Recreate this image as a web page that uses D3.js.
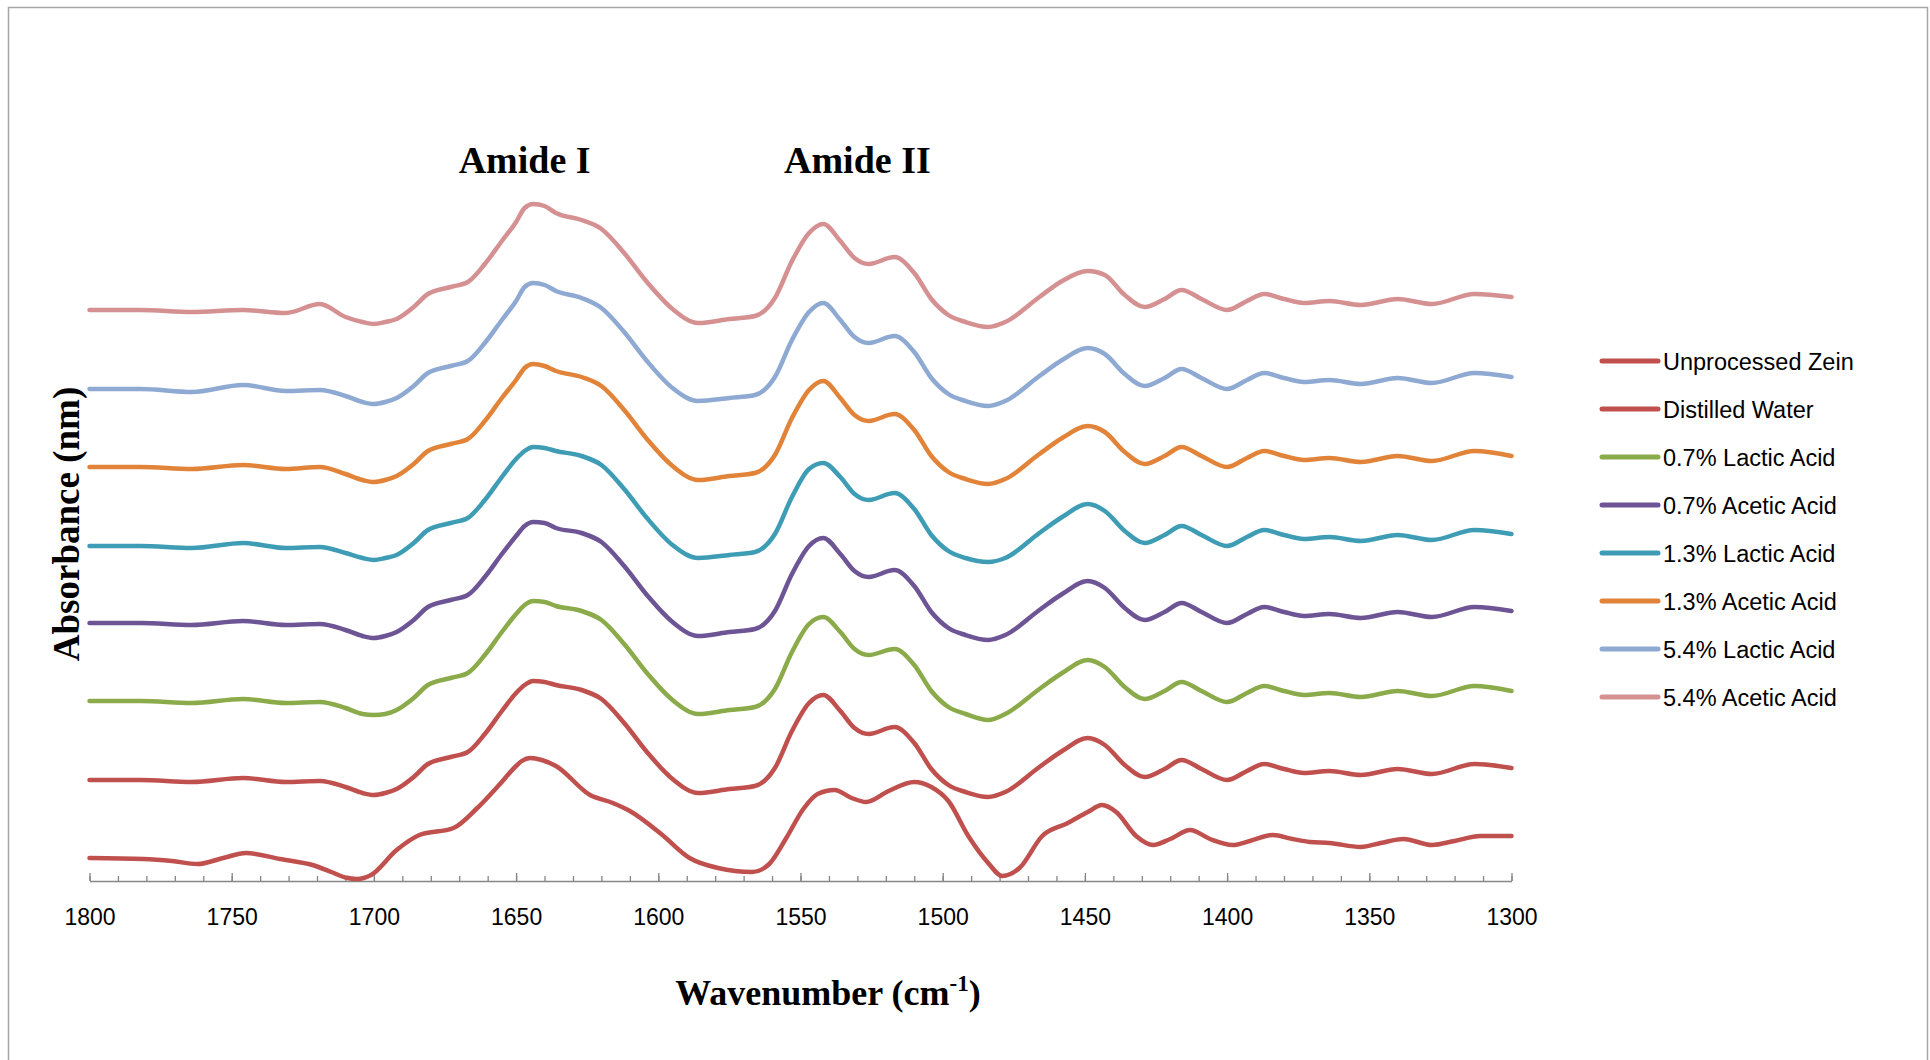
<!DOCTYPE html>
<html>
<head>
<meta charset="utf-8">
<script src="https://cdn.jsdelivr.net/npm/d3@7"></script>
<style>
  body { margin: 0; background: #fff; }
</style>
</head>
<body>
<div id="spectra"></div>
<script>
// Wavenumbers (cm-1) at which the spectra were read
const wnZein = [1800, 1781, 1771, 1762, 1753, 1745, 1733, 1721, 1715, 1710, 1706, 1701, 1692, 1684, 1672, 1664,
  1656, 1650, 1648, 1645, 1641, 1636, 1624, 1616, 1610, 1599, 1589, 1579, 1567, 1561, 1555, 1549, 1544, 1538, 1532,
  1527, 1519, 1510, 1504, 1498, 1491, 1484, 1479, 1473, 1465, 1456, 1449, 1444, 1439, 1432, 1426, 1420,
  1413, 1406, 1398, 1392, 1384, 1377, 1371, 1364, 1353, 1346, 1338, 1328, 1320, 1311, 1300];

const wnTreated = [1800, 1782, 1764, 1746, 1731, 1719, 1710, 1704, 1700, 1696, 1692, 1686, 1681, 1673, 1667,
  1661, 1655, 1650, 1647, 1644, 1640, 1636, 1627, 1620, 1612, 1604, 1595, 1586, 1575, 1566, 1559, 1553,
  1547, 1542, 1536, 1531, 1526, 1517, 1510, 1504, 1498, 1492, 1484, 1478, 1466, 1458, 1449, 1443, 1436,
  1429, 1422, 1416, 1409, 1400, 1393, 1387, 1380, 1373, 1364, 1353, 1340, 1328, 1313, 1300];

// Absorbance (a.u., spectra stacked)
const unprocessedZein = [0.21, 0.20, 0.18, 0.15, 0.21, 0.26, 0.20, 0.135, 0.07, 0.015, 0.00, 0.04, 0.29, 0.44, 0.51, 0.70,
  0.94, 1.13, 1.18, 1.21, 1.19, 1.13, 0.84, 0.76, 0.68, 0.45, 0.21, 0.11, 0.07, 0.15, 0.41, 0.70, 0.85, 0.89, 0.81,
  0.77, 0.88, 0.97, 0.92, 0.78, 0.43, 0.16, 0.03, 0.11, 0.43, 0.56, 0.67, 0.74, 0.67, 0.43, 0.34, 0.40,
  0.49, 0.40, 0.34, 0.38, 0.44, 0.40, 0.37, 0.36, 0.32, 0.36, 0.40, 0.34, 0.38, 0.43, 0.43];

const distilledWater = [0.99, 0.99, 0.97, 1.01, 0.97, 0.98, 0.92, 0.86, 0.84, 0.86, 0.90, 1.02, 1.15, 1.22, 1.27,
  1.45, 1.68, 1.86, 1.94, 1.98, 1.97, 1.94, 1.89, 1.80, 1.56, 1.27, 1.00, 0.86, 0.90, 0.93, 1.11, 1.48,
  1.76, 1.84, 1.68, 1.51, 1.45, 1.52, 1.36, 1.10, 0.94, 0.87, 0.82, 0.87, 1.12, 1.28, 1.41, 1.34, 1.14,
  1.02, 1.10, 1.19, 1.10, 0.99, 1.08, 1.15, 1.10, 1.06, 1.08, 1.04, 1.10, 1.05, 1.15, 1.11];

const lactic07 = [1.78, 1.78, 1.76, 1.80, 1.76, 1.77, 1.71, 1.65, 1.64, 1.65, 1.69, 1.81, 1.94, 2.01, 2.06,
  2.24, 2.47, 2.65, 2.74, 2.78, 2.77, 2.73, 2.68, 2.59, 2.35, 2.06, 1.79, 1.65, 1.69, 1.72, 1.90, 2.27,
  2.55, 2.62, 2.47, 2.30, 2.24, 2.30, 2.14, 1.88, 1.72, 1.65, 1.59, 1.65, 1.90, 2.06, 2.19, 2.12, 1.92,
  1.80, 1.88, 1.97, 1.88, 1.77, 1.86, 1.93, 1.88, 1.84, 1.86, 1.82, 1.88, 1.83, 1.93, 1.88];

const acetic07 = [2.56, 2.56, 2.54, 2.58, 2.54, 2.55, 2.49, 2.43, 2.41, 2.43, 2.47, 2.59, 2.72, 2.79, 2.84,
  3.02, 3.25, 3.43, 3.53, 3.57, 3.56, 3.51, 3.46, 3.37, 3.13, 2.84, 2.57, 2.43, 2.47, 2.50, 2.68, 3.05,
  3.33, 3.41, 3.25, 3.08, 3.02, 3.09, 2.93, 2.67, 2.51, 2.44, 2.39, 2.44, 2.69, 2.85, 2.98, 2.91, 2.71,
  2.59, 2.67, 2.76, 2.67, 2.56, 2.65, 2.72, 2.67, 2.63, 2.65, 2.61, 2.67, 2.62, 2.72, 2.68];

const lactic13 = [3.33, 3.33, 3.31, 3.36, 3.31, 3.32, 3.26, 3.21, 3.19, 3.21, 3.24, 3.36, 3.49, 3.56, 3.61,
  3.79, 4.02, 4.20, 4.28, 4.32, 4.31, 4.28, 4.23, 4.14, 3.90, 3.61, 3.34, 3.21, 3.24, 3.27, 3.45, 3.82,
  4.10, 4.16, 4.02, 3.85, 3.79, 3.86, 3.70, 3.44, 3.28, 3.21, 3.17, 3.21, 3.46, 3.62, 3.75, 3.68, 3.48,
  3.36, 3.44, 3.53, 3.44, 3.33, 3.42, 3.49, 3.44, 3.40, 3.42, 3.38, 3.44, 3.39, 3.49, 3.45];

const acetic13 = [4.12, 4.12, 4.10, 4.14, 4.10, 4.12, 4.05, 3.99, 3.97, 3.99, 4.03, 4.15, 4.28, 4.35, 4.40,
  4.58, 4.81, 4.99, 5.11, 5.15, 5.13, 5.08, 5.02, 4.93, 4.69, 4.40, 4.13, 3.99, 4.03, 4.06, 4.24, 4.61,
  4.89, 4.98, 4.81, 4.64, 4.58, 4.65, 4.49, 4.23, 4.07, 4.00, 3.95, 4.00, 4.25, 4.41, 4.53, 4.47, 4.27,
  4.15, 4.23, 4.32, 4.23, 4.12, 4.21, 4.28, 4.23, 4.19, 4.21, 4.17, 4.23, 4.18, 4.28, 4.23];

const lactic54 = [4.90, 4.90, 4.87, 4.94, 4.88, 4.89, 4.83, 4.77, 4.75, 4.77, 4.81, 4.93, 5.06, 5.13, 5.18,
  5.36, 5.59, 5.78, 5.92, 5.96, 5.94, 5.88, 5.81, 5.71, 5.47, 5.18, 4.91, 4.78, 4.81, 4.84, 5.02, 5.39,
  5.67, 5.76, 5.59, 5.42, 5.36, 5.43, 5.27, 5.01, 4.85, 4.78, 4.73, 4.78, 5.03, 5.19, 5.31, 5.25, 5.05,
  4.93, 5.01, 5.10, 5.01, 4.90, 4.99, 5.06, 5.01, 4.97, 4.99, 4.95, 5.01, 4.96, 5.06, 5.02];

const acetic54 = [5.69, 5.69, 5.67, 5.69, 5.66, 5.75, 5.62, 5.57, 5.55, 5.57, 5.60, 5.72, 5.85, 5.92, 5.97,
  6.15, 6.38, 6.57, 6.71, 6.75, 6.73, 6.66, 6.59, 6.50, 6.26, 5.97, 5.70, 5.56, 5.60, 5.63, 5.81, 6.18,
  6.46, 6.55, 6.38, 6.21, 6.15, 6.22, 6.06, 5.80, 5.64, 5.57, 5.52, 5.57, 5.82, 5.98, 6.08, 6.04, 5.84,
  5.72, 5.80, 5.89, 5.80, 5.69, 5.78, 5.85, 5.80, 5.76, 5.78, 5.74, 5.80, 5.75, 5.85, 5.82];

const seriesNames = ["Unprocessed Zein", "Distilled Water", "0.7% Lactic Acid", "0.7% Acetic Acid",
  "1.3% Lactic Acid", "1.3% Acetic Acid", "5.4% Lactic Acid", "5.4% Acetic Acid"];
const seriesValues = [unprocessedZein, distilledWater, lactic07, acetic07, lactic13, acetic13, lactic54, acetic54];
const majorTicks = [1800, 1750, 1700, 1650, 1600, 1550, 1500, 1450, 1400, 1350, 1300];
const bandLabels = ["Amide I", "Amide II"];
const bandPositions = [1647, 1530];

const colors = ["#C0504D", "#C0504D", "#8BAB4B", "#6D5495", "#3E9DB5", "#E1843A", "#8EA9D2", "#D59092"];

const width = 1930, height = 1060;

const svg = d3.select("#spectra")
  .append("svg")
  .attr("width", width)
  .attr("height", height);

// chart border
svg.append("rect")
  .attr("x", 8.5).attr("y", 7.5)
  .attr("width", 1919).attr("height", 1070)
  .attr("fill", "#fff")
  .attr("stroke", "#A6A6A6")
  .attr("stroke-width", 1.5);

const x = d3.scaleLinear().domain([1800, 1300]).range([89.5, 1511.5]);
const y = d3.scaleLinear().domain([-0.02, 7.98]).range([881, 81]);

// minor ticks every 10 cm-1
svg.append("g")
  .attr("transform", `translate(0,${y(-0.02)})`)
  .call(d3.axisBottom(x).tickValues(d3.range(1300, 1801, 10)).tickSize(-5).tickSizeOuter(0).tickFormat(""))
  .call(g => g.select(".domain").remove())
  .selectAll("line").attr("stroke", "#868686").attr("stroke-width", 1.3);

// major ticks + labels
const xAxis = svg.append("g")
  .attr("transform", `translate(0,${y(-0.02)})`)
  .call(d3.axisBottom(x).tickValues(majorTicks).tickSize(-8).tickSizeOuter(0).tickPadding(28).tickFormat(d3.format("d")));

xAxis.select(".domain").attr("stroke", "#868686").attr("stroke-width", 1.6);
xAxis.selectAll("line").attr("stroke", "#868686").attr("stroke-width", 1.3);
xAxis.selectAll("text")
  .attr("fill", "#000")
  .style("font-family", "'Liberation Sans', Arial, sans-serif")
  .style("font-size", "23px");

// spectra
const line = d3.line()
  .x(d => x(d[0]))
  .y(d => y(d[1]))
  .curve(d3.curveMonotoneX);

seriesValues.forEach((vals, i) => {
  const wn = i === 0 ? wnZein : wnTreated;
  svg.append("path")
    .datum(vals.map((v, j) => [wn[j], v]).reverse())
    .attr("fill", "none")
    .attr("stroke", colors[i])
    .attr("stroke-width", 4.5)
    .attr("stroke-linejoin", "round")
    .attr("stroke-linecap", "round")
    .attr("d", line);
});

// band annotations
const serif = "'Liberation Serif', 'Times New Roman', serif";
svg.selectAll(".band")
  .data(bandLabels)
  .enter()
  .append("text")
  .attr("x", (d, i) => x(bandPositions[i]))
  .attr("y", 173)
  .attr("text-anchor", "middle")
  .style("font-family", serif)
  .style("font-weight", "bold")
  .style("font-size", "38px")
  .text(d => d);

// axis titles
const xTitle = svg.append("text")
  .attr("x", 828)
  .attr("y", 1005)
  .attr("text-anchor", "middle")
  .style("font-family", serif)
  .style("font-weight", "bold")
  .style("font-size", "36px");
xTitle.append("tspan").text("Wavenumber (cm");
xTitle.append("tspan").attr("dy", -14).style("font-size", "23px").text("-1");
xTitle.append("tspan").attr("dy", 14).text(")");

svg.append("text")
  .attr("transform", "translate(79,524) rotate(-90)")
  .attr("text-anchor", "middle")
  .style("font-family", serif)
  .style("font-weight", "bold")
  .style("font-size", "37px")
  .text("Absorbance (nm)");

// legend
const legend = svg.selectAll(".legend")
  .data(seriesNames)
  .enter()
  .append("g")
  .attr("transform", (d, i) => `translate(1602,${361 + i * 48})`);

legend.append("line")
  .attr("x1", 0).attr("x2", 56)
  .attr("stroke", (d, i) => colors[i])
  .attr("stroke-width", 5)
  .attr("stroke-linecap", "round");

legend.append("text")
  .attr("x", 61)
  .attr("y", 9)
  .style("font-family", "'Liberation Sans', Arial, sans-serif")
  .style("font-size", "23.5px")
  .text(d => d);
</script>
</body>
</html>
